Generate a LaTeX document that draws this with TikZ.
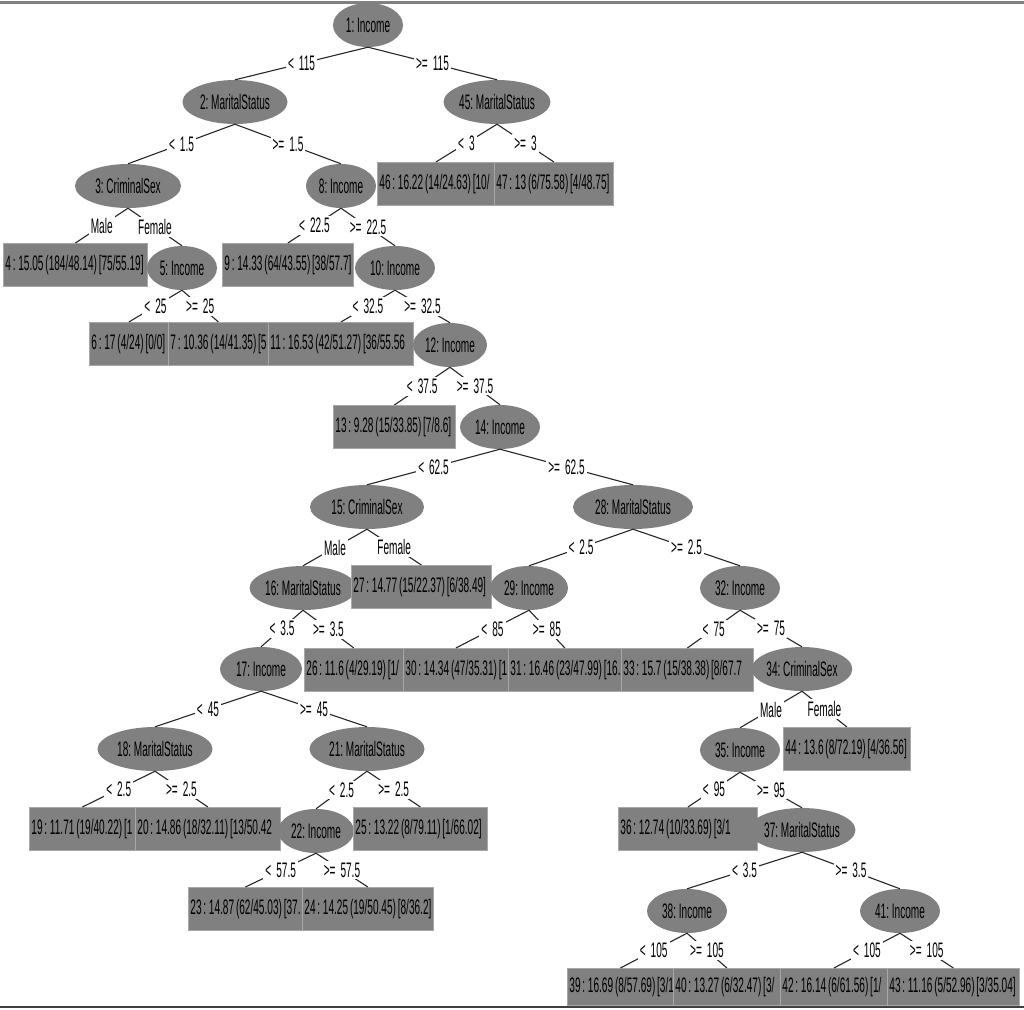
\documentclass[tikz,border=0pt]{standalone}
\usepackage{fontspec}
\newfontfamily\treefont[FakeStretch=0.48, WordSpace=0.65]{Liberation Sans}
\newcommand\treesize{\fontsize{21}{25}\selectfont}
\usetikzlibrary{shapes.geometric}
\definecolor{nodegray}{RGB}{128,128,128}
\definecolor{rimgray}{RGB}{168,168,168}
\definecolor{framegray}{RGB}{128,128,128}
\tikzset{
    split/.style={ellipse, fill=nodegray, inner sep=0pt, minimum width=#1, minimum height=44, font=\treefont\treesize},
    leaf/.style={rectangle, fill=nodegray, draw=rimgray, line width=0.8pt, anchor=north west,
        inner xsep=2pt, inner ysep=0pt, minimum height=43, text width={#1-4}, align=left,
        font=\treefont\treesize, execute at begin node={\spaceskip=0pt\xspaceskip=0pt\hbox to\hsize\bgroup},
        execute at end node={\hss\null\egroup}},
    branch/.style={draw=black!85, line width=1.1pt},
    cond/.style={fill=white, inner sep=2pt, font=\treefont\treesize, execute at begin node={\spaceskip=5pt}},
}

\begin{document}
\begin{tikzpicture}[x=1pt,y=-1pt]
    \useasboundingbox (0,0) rectangle (1024,1009);

    \node[split=70] (n1) at (368,25) {1: Income};
    \node[split=105] (n2) at (235,102) {2: MaritalStatus};
    \node[split=106] (n3) at (128,186) {3: CriminalSex};
    \node[leaf=144] (n4) at (3,243) {4 : 15.05 (184/48.14) [75/55.19]};
    \node[split=70] (n5) at (182,268) {5: Income};
    \node[leaf=79] (n6) at (89,322) {6 : 17 (4/24) [0/0]};
    \node[leaf=100] (n7) at (168,322) {7 : 10.36 (14/41.35) [5};
    \node[split=70] (n8) at (341,186) {8: Income};
    \node[leaf=131] (n9) at (222,243) {9 : 14.33 (64/43.55) [38/57.7]};
    \node[split=80] (n10) at (395,268) {10: Income};
    \node[leaf=145] (n11) at (268,322) {11 : 16.53 (42/51.27) [36/55.56};
    \node[split=74] (n12) at (450,345) {12: Income};
    \node[leaf=122] (n13) at (333,405) {13 : 9.28 (15/33.85) [7/8.6]};
    \node[split=80] (n14) at (500,427) {14: Income};
    \node[split=114] (n15) at (367,507) {15: CriminalSex};
    \node[split=96] (n16) at (303,588) {16: MaritalStatus};
    \node[split=82] (n17) at (261,669) {17: Income};
    \node[split=115] (n18) at (155,749) {18: MaritalStatus};
    \node[leaf=106] (n19) at (29,807) {19 : 11.71 (19/40.22) [1};
    \node[leaf=145] (n20) at (135,807) {20 : 14.86 (18/32.11) [13/50.42};
    \node[split=115] (n21) at (367,749) {21: MaritalStatus};
    \node[split=76] (n22) at (316,831) {22: Income};
    \node[leaf=114] (n23) at (188,887) {23 : 14.87 (62/45.03) [37.};
    \node[leaf=131] (n24) at (302,887) {24 : 14.25 (19/50.45) [8/36.2]};
    \node[leaf=134] (n25) at (353,807) {25 : 13.22 (8/79.11) [1/66.02]};
    \node[leaf=99] (n26) at (304,648) {26 : 11.6 (4/29.19) [1/};
    \node[leaf=140] (n27) at (351,565) {27 : 14.77 (15/22.37) [6/38.49]};
    \node[split=120] (n28) at (633,507) {28: MaritalStatus};
    \node[split=78] (n29) at (529,588) {29: Income};
    \node[leaf=105] (n30) at (403,648) {30 : 14.34 (47/35.31) [1};
    \node[leaf=113] (n31) at (508,648) {31 : 16.46 (23/47.99) [16.};
    \node[split=80] (n32) at (740,588) {32: Income};
    \node[leaf=132] (n33) at (621,648) {33 : 15.7 (15/38.38) [8/67.7};
    \node[split=98] (n34) at (802,669) {34: CriminalSex};
    \node[split=80] (n35) at (740,750) {35: Income};
    \node[leaf=139] (n36) at (618,807) {36 : 12.74 (10/33.69) [3/1};
    \node[split=102] (n37) at (802,830) {37: MaritalStatus};
    \node[split=80] (n38) at (687,911) {38: Income};
    \node[leaf=106, minimum height=37] (n39) at (567,968) {39 : 16.69 (8/57.69) [3/1};
    \node[leaf=107, minimum height=37] (n40) at (673,968) {40 : 13.27 (6/32.47) [3/};
    \node[split=80] (n41) at (900,911) {41: Income};
    \node[leaf=107, minimum height=37] (n42) at (780,968) {42 : 16.14 (6/61.56) [1/};
    \node[leaf=132, minimum height=37] (n43) at (887,968) {43 : 11.16 (5/52.96) [3/35.04]};
    \node[leaf=127] (n44) at (783,727) {44 : 13.6 (8/72.19) [4/36.56]};
    \node[split=104] (n45) at (497,102) {45: MaritalStatus};
    \node[leaf=117] (n46) at (377,162) {46 : 16.22 (14/24.63) [10/};
    \node[leaf=119] (n47) at (494,162) {47 : 13 (6/75.58) [4/48.75]};

    % splits
    \foreach \a/\b/\t in {1/2/{< 115}, 1/45/{>= 115}, 2/3/{< 1.5}, 2/8/{>= 1.5},
        3/4/Male, 3/5/Female, 5/6/{< 25}, 5/7/{>= 25}, 8/9/{< 22.5}, 8/10/{>= 22.5},
        10/11/{< 32.5}, 10/12/{>= 32.5}, 12/13/{< 37.5}, 12/14/{>= 37.5},
        14/15/{< 62.5}, 14/28/{>= 62.5}, 15/16/Male, 15/27/Female,
        16/17/{< 3.5}, 16/26/{>= 3.5}, 17/18/{< 45}, 17/21/{>= 45},
        18/19/{< 2.5}, 18/20/{>= 2.5}, 21/22/{< 2.5}, 21/25/{>= 2.5},
        22/23/{< 57.5}, 22/24/{>= 57.5}, 28/29/{< 2.5}, 28/32/{>= 2.5},
        29/30/{< 85}, 29/31/{>= 85}, 32/33/{< 75}, 32/34/{>= 75},
        34/35/Male, 34/44/Female, 35/36/{< 95}, 35/37/{>= 95},
        37/38/{< 3.5}, 37/41/{>= 3.5}, 38/39/{< 105}, 38/40/{>= 105},
        41/42/{< 105}, 41/43/{>= 105}, 45/46/{< 3}, 45/47/{>= 3}}
        \draw[branch] (n\a.south) -- node[cond] {\t} (n\b.north);

    \draw[framegray, line width=3pt] (0,2) -- (1024,2);
    \draw[black!75, line width=2.5pt] (0,1007) -- (1024,1007);
\end{tikzpicture}
\end{document}
